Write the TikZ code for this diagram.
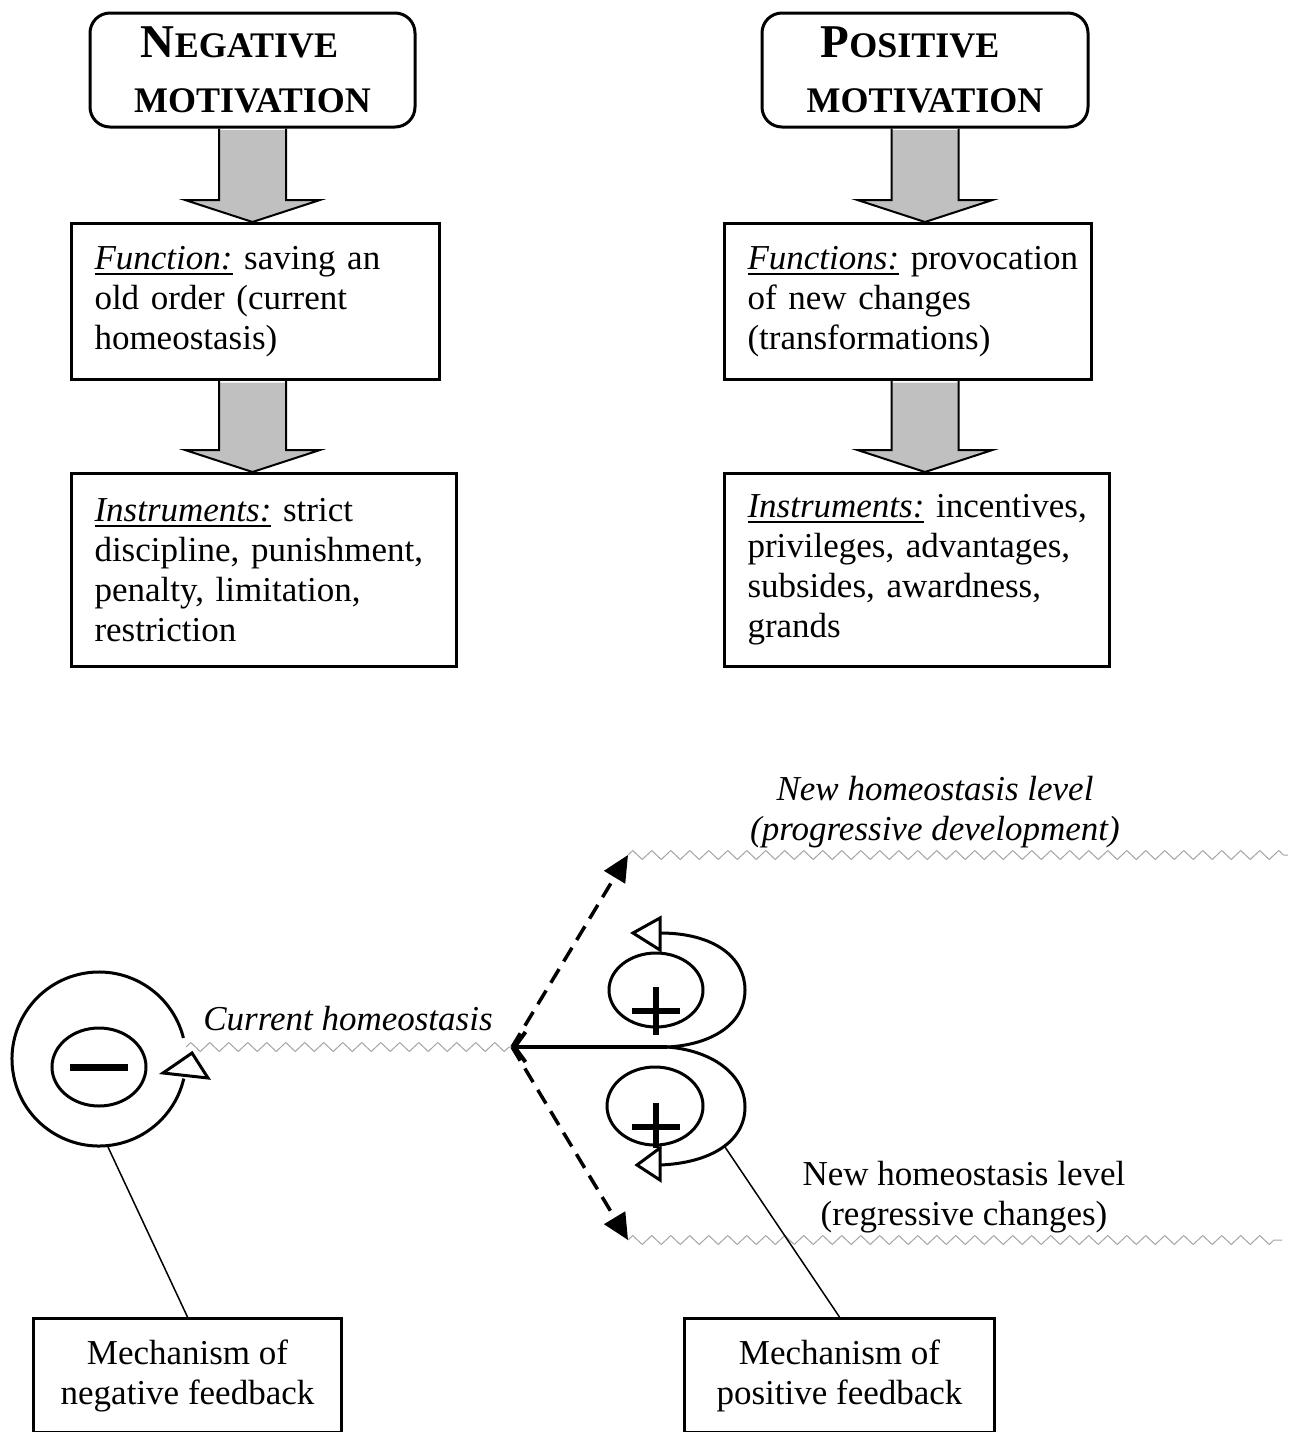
\documentclass[tikz,border=0pt]{standalone}
\usepackage{fontspec}
\setmainfont{Liberation Serif}
\usetikzlibrary{arrows.meta,decorations.pathmorphing,calc}
\definecolor{arrowgray}{RGB}{192,192,192}
\definecolor{zzgray}{RGB}{165,165,165}
\newcommand\myul[1]{\vtop{\hbox{#1}\kern3pt\hrule height 2pt}}
\newcommand\bodyfont{\fontsize{35}{40}\selectfont}
% #1 node giving x, #2 upper node, #3 lower node
\newcommand\blockarr[3]{%
  \fill[arrowgray] let \p0=(#1.south), \p1=(#2.south), \p2=(#3.north) in
    (\x0-33.5pt,\y1-1.5pt) -- (\x0-33.5pt,\y2+22pt) -- (\x0-67.5pt,\y2+22pt) -- (\x0,\y2)
    -- (\x0+67.5pt,\y2+22pt) -- (\x0+33.5pt,\y2+22pt) -- (\x0+33.5pt,\y1-1.5pt) -- cycle;
  \draw[line width=2pt, line join=miter] let \p0=(#1.south), \p1=(#2.south), \p2=(#3.north) in
    (\x0-33.5pt,\y1) -- (\x0-33.5pt,\y2+22pt) -- (\x0-67.5pt,\y2+22pt) -- (\x0,\y2)
    -- (\x0+67.5pt,\y2+22pt) -- (\x0+33.5pt,\y2+22pt) -- (\x0+33.5pt,\y1);}
\begin{document}
\begin{tikzpicture}[x=1pt,y=-1pt,
  hdrbox/.style={draw, line width=3pt, rounded corners=20pt, align=center, inner sep=0pt,
     font=\bfseries\fontsize{36}{55}\selectfont},
  txtbox/.style={draw, line width=3pt, anchor=north west, align=left, inner xsep=23pt,
     inner ysep=0pt, font=\bodyfont},
  fbbox/.style={draw, line width=3pt, anchor=north west, align=center, inner sep=0pt, font=\bodyfont},
  lbl/.style={align=center, inner sep=0pt, font=\bodyfont},
  zz/.style={draw=zzgray, line width=1pt, decorate, decoration={zigzag, segment length=19pt, amplitude=4.5pt}},
  dasharr/.style={line width=3.5pt, dash pattern=on 16pt off 9pt, -{Triangle[length=26pt,width=24pt]}},
  thick3/.style={line width=3pt},
  ptri/.style={line width=3pt, fill=white, line join=miter}
]
\useasboundingbox (0,0) rectangle (1292,1432);

% ---------- top part ----------
\node[hdrbox, minimum width=325pt, minimum height=114pt] (nm) at (252.5,70)
  {\raisebox{0pt}{\fontsize{47}{55}\selectfont N}EGATIVE\hspace*{26pt}\\MOTIVATION};
\node[hdrbox, minimum width=326pt, minimum height=114pt] (pm) at (925,70)
  {{\fontsize{47}{55}\selectfont P}OSITIVE\hspace*{30pt}\\MOTIVATION};

\node[txtbox, text width=322pt, minimum height=156pt] (fn) at (70,222)
  {\mbox{\myul{\textit{Function:}} saving an}\\\mbox{old order (current}\\homeostasis)};
\node[txtbox, text width=321pt, minimum height=156pt] (fp) at (723,222)
  {\mbox{\myul{\textit{Functions:}} provocation}\\\mbox{of new changes}\\(transformations)};
\node[txtbox, text width=339pt, minimum height=193pt] (in) at (70,472)
  {\mbox{\myul{\textit{Instruments:}} strict}\\\mbox{discipline, punishment,}\\\mbox{penalty, limitation,}\\restriction};
\node[txtbox, text width=339pt, minimum height=193pt] (ip) at (723,472)
  {\mbox{\myul{\textit{Instruments:}} incentives,}\\\mbox{privileges, advantages,}\\\mbox{subsides, awardness,}\\grands};

\blockarr{nm}{nm}{fn}
\blockarr{nm}{fn}{in}
\blockarr{pm}{pm}{fp}
\blockarr{pm}{fp}{ip}

% ---------- bottom part ----------
\coordinate (hub) at (512,1047);
\coordinate (upend) at (628,855);
\coordinate (dnend) at (628,1240);
\coordinate (curl) at (186,1047);
\coordinate (upright) at (1288,855);
\coordinate (dnright) at (1282,1240);
\coordinate (cusp) at (667,1047);

\draw[zz] (curl) -- (hub);
\draw[zz] (upend) -- (upright);
\draw[zz] (dnend) -- (dnright);

\node[lbl, font=\bodyfont\itshape] (curtxt) at (348,1018.5) {Current homeostasis};
\node[lbl, font=\bodyfont\itshape] (uptxt) at (935,812) {New homeostasis level\\(progressive development)};
\node[lbl] (dntxt) at (964,1197) {New homeostasis level\\(regressive changes)};

\draw[dasharr] (hub) -- (upend);
\draw[dasharr] (hub) -- (dnend);
\draw[line width=4pt, {Straight Barb[length=11pt,width=30pt]}-] (hub) -- (cusp);

% negative feedback symbol
\draw[thick3] (99,1059) ++(-14:87) arc[start angle=-14, end angle=-347, radius=87];
\draw[ptri] (163,1073) -- (192,1053) -- (208,1078) -- cycle;
\draw[thick3] (99,1067) ellipse[x radius=47, y radius=39];
\fill (70,1063.5) rectangle (128,1071);

% positive feedback symbols
\draw[thick3] (660,933) .. controls (715,933) and (745,958) .. (745,990)
  .. controls (745,1025) and (710,1045) .. (cusp);
\draw[thick3] (cusp) .. controls (710,1050) and (745,1073) .. (745,1107)
  .. controls (745,1142) and (710,1163) .. (660,1165);
\draw[thick3] (656,990) ellipse[x radius=47, y radius=37];
\draw[line width=6pt] (656,987) -- (656,1035) (632,1011) -- (680,1011);
\draw[ptri] (633,933) -- (660,918) -- (660,950) -- cycle;
\draw[thick3] (655,1106) ellipse[x radius=48, y radius=39];
\draw[line width=6pt] (656,1103) -- (656,1148) (632,1127) -- (680,1127);
\draw[ptri] (637,1165) -- (660,1148) -- (660,1180) -- cycle;

% mechanism boxes
\node[fbbox, minimum width=308pt, minimum height=114pt] (nfb) at (32,1317) {Mechanism of\\negative feedback};
\node[fbbox, minimum width=310pt, minimum height=114pt] (pfb) at (683,1317) {Mechanism of\\positive feedback};
\coordinate (nfbase) at (108,1147);
\coordinate (pfbase) at (725,1147);
\draw[line width=1.5pt] (nfbase) -- (nfb.north);
\draw[line width=1.5pt] (pfbase) -- (pfb.north);
\end{tikzpicture}
\end{document}
